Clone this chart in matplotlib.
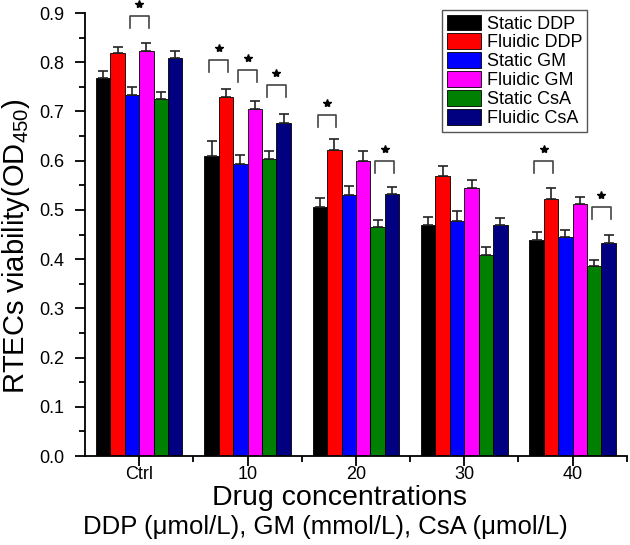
""" RTECs viability under static / fluidic drug exposure """

import numpy as np
import matplotlib
matplotlib.use('Agg')
import matplotlib.pyplot as plt

plt.rcParams['font.family'] = ['Liberation Sans', 'DejaVu Sans']
plt.rcParams['mathtext.fontset'] = 'custom'
plt.rcParams['mathtext.rm'] = 'Liberation Sans'
plt.rcParams['mathtext.default'] = 'rm'

# DATA
groups = ['Ctrl', '10', '20', '30', '40']
series = ['Static DDP', 'Fluidic DDP', 'Static GM',
          'Fluidic GM', 'Static CsA', 'Fluidic CsA']
colors = ['#000000', '#ff0000', '#0000ff', '#ff00ff', '#008000', '#000080']

static_ddp = [0.769, 0.610, 0.506, 0.469, 0.438]
fluidic_ddp = [0.818, 0.730, 0.622, 0.568, 0.522]
static_gm = [0.734, 0.594, 0.530, 0.478, 0.444]
fluidic_gm = [0.823, 0.706, 0.600, 0.544, 0.512]
static_csa = [0.726, 0.603, 0.466, 0.408, 0.387]
fluidic_csa = [0.808, 0.676, 0.532, 0.469, 0.432]

err_static_ddp = [0.013, 0.029, 0.018, 0.017, 0.017]
err_fluidic_ddp = [0.013, 0.015, 0.022, 0.021, 0.022]
err_static_gm = [0.015, 0.018, 0.019, 0.020, 0.015]
err_fluidic_gm = [0.017, 0.016, 0.020, 0.017, 0.015]
err_static_csa = [0.014, 0.016, 0.014, 0.017, 0.011]
err_fluidic_csa = [0.015, 0.018, 0.014, 0.014, 0.017]

values = [static_ddp, fluidic_ddp, static_gm, fluidic_gm, static_csa, fluidic_csa]
errors = [err_static_ddp, err_fluidic_ddp, err_static_gm,
          err_fluidic_gm, err_static_csa, err_fluidic_csa]

# significance brackets: (group index, left bar, right bar, bracket top)
sig_group = [0, 1, 1, 1, 2, 2, 4, 4]
sig_left = [2, 0, 2, 4, 0, 4, 0, 4]
sig_right = [3, 1, 3, 5, 1, 5, 1, 5]
sig_top = [0.894, 0.805, 0.785, 0.754, 0.693, 0.600, 0.600, 0.506]

# FIGURE
fig = plt.figure(figsize=(6.3, 5.45), dpi=100)
ax = fig.add_axes([0.135, 0.1633, 0.860, 0.8128])

x = np.arange(len(groups))
width = 0.133
n = len(series)

for i in range(n):
    pos = x + (i - (n - 1) / 2) * width
    ax.bar(pos, values[i], width, color=colors[i], edgecolor='black',
           linewidth=0.6, label=series[i], zorder=2)
    ax.errorbar(pos, values[i], yerr=[np.zeros(len(groups)), errors[i]],
                fmt='none', ecolor='#222222', elinewidth=1.2,
                capsize=3.8, capthick=1.2, zorder=3)

# brackets with stars
leg = 0.025
for g, a, b, top in zip(sig_group, sig_left, sig_right, sig_top):
    xa = x[g] + (a - (n - 1) / 2) * width - 0.02
    xb = x[g] + (b - (n - 1) / 2) * width + 0.02
    ax.plot([xa, xa, xb, xb], [top - leg, top, top, top - leg],
            color='#444444', linewidth=1.2, zorder=4)
    ax.plot([(xa + xb) / 2], [top + 0.024], marker='*', markersize=6,
            color='black', linestyle='none', clip_on=False, zorder=4)

ax.set_xlim(-0.5, 4.5)
ax.set_ylim(0, 0.9)
ax.set_yticks(np.arange(0, 0.91, 0.1))
ax.set_yticks(np.arange(0.05, 0.9, 0.1), minor=True)
ax.set_yticklabels(['%.1f' % v for v in np.arange(0, 0.91, 0.1)])
ax.set_xticks(x)
ax.set_xticklabels(groups)
ax.set_xticks(list(x + 0.5), minor=True)

for side in ['top', 'right']:
    ax.spines[side].set_visible(False)
for side in ['left', 'bottom']:
    ax.spines[side].set_linewidth(1.3)

ax.tick_params(axis='both', which='major', direction='out', length=7,
               width=1.3, labelsize=13, colors='black')
ax.tick_params(axis='both', which='minor', direction='out', length=4,
               width=1.3)
ax.tick_params(axis='x', which='major', pad=0)
ax.tick_params(axis='y', which='major', pad=8)

ax.set_ylabel(r'RTECs viability(OD$_{450}$)', fontsize=21)
ax.yaxis.set_label_coords(-0.097, 0.475)
ax.set_xlabel('Drug concentrations', fontsize=20.5)
ax.xaxis.set_label_coords(0.47, -0.066)
fig.text(325 / 630, 1 - 527 / 545,
         'DDP (\u03bcmol/L), GM (mmol/L), CsA (\u03bcmol/L)',
         ha='center', va='center', fontsize=18.5)

ax.legend(loc='upper left', bbox_to_anchor=(442 / 630, 1 - 10 / 545),
          bbox_transform=fig.transFigure, borderaxespad=0, fontsize=13,
          handlelength=1.9, handleheight=0.95, handletextpad=0.35,
          labelspacing=0.05, borderpad=0.25, frameon=True, fancybox=False,
          edgecolor='#555555', framealpha=1)

fig.savefig('out.png', dpi=100)
